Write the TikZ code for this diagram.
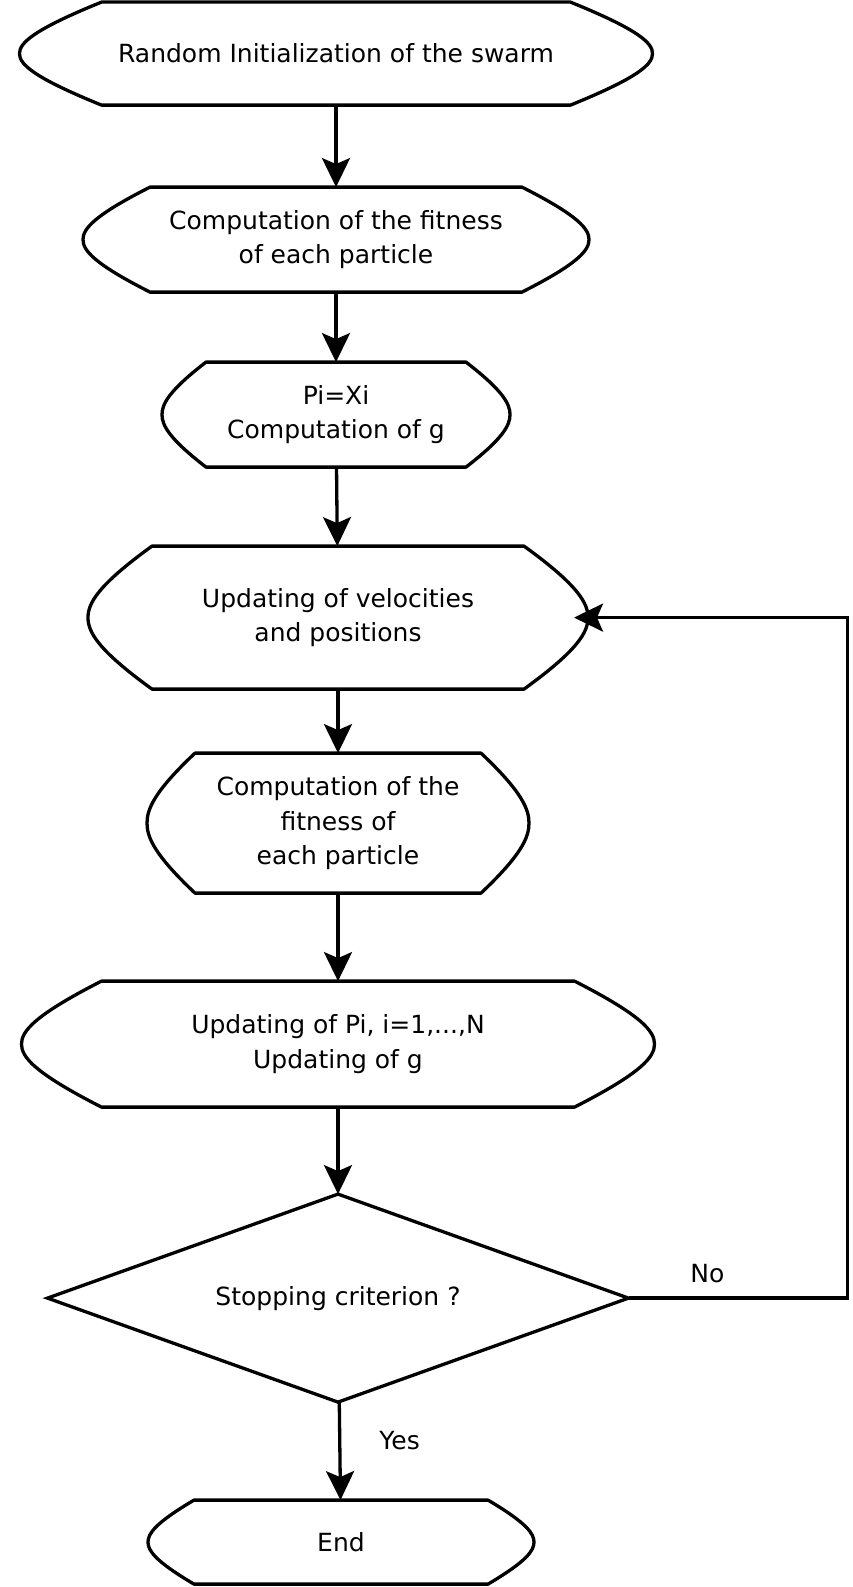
\documentclass[tikz,border=0pt]{standalone}
\usepackage{fontspec}
\setmainfont{DejaVu Sans}
\usetikzlibrary{shapes.geometric, arrows.meta, positioning, calc}
\tikzstyle{procbox} = [rectangle, inner sep=0pt, outer sep=0pt, align=center]
\tikzstyle{decision} = [diamond, aspect=2.8, draw=black, line width=3.3pt, inner sep=0pt, outer sep=0pt, minimum width=581pt, minimum height=208pt, align=center]
\tikzstyle{outline} = [draw=black, line width=3.3pt, line join=round]
\tikzstyle{edge} = [line width=3.3pt, -{Stealth[length=29pt, width=28pt, inset=6pt]}]
\tikzstyle{tag} = [inner sep=0pt]

\begin{document}
\begin{tikzpicture}[x=1pt, y=-1pt, every node/.style={font=\fontsize{25pt}{34.4pt}\selectfont}]
\useasboundingbox (0,0) rectangle (853,1587);

\node (init) [procbox, minimum width=633pt, minimum height=103pt] at (336,53.6) {Random Initialization of the swarm};
\node (fit) [procbox, minimum width=506pt, minimum height=105pt, below=82pt of init] {Computation of the fitness\\of each particle};
\node (best) [procbox, minimum width=348pt, minimum height=105pt, below=70pt of fit] {Pi=Xi\\Computation of g};
\node (upd) [procbox, minimum width=500pt, minimum height=143pt, below=79pt of best, xshift=2pt] {Updating of velocities\\and positions};
\node (fit2) [procbox, minimum width=382pt, minimum height=140pt, below=64pt of upd] {Computation of the\\fitness of\\each particle};
\node (upd2) [procbox, minimum width=633pt, minimum height=126pt, below=88pt of fit2] {Updating of Pi, i=1,...,N\\Updating of g};
\node (crit) [decision, below=87pt of upd2] {Stopping criterion ?};
\node (end) [procbox, minimum width=386pt, minimum height=84pt, below=98pt of crit, xshift=3pt] {End};

% rounded hexagon outlines: node name / side depth
\foreach \nd/\sd in {init/82, fit/67, best/44, upd/64, fit2/48, upd2/80, end/46}
  \draw [outline] ($(\nd.north west)+(\sd,0)$) -- ($(\nd.north east)+(-\sd,0)$)
    .. controls ($(\nd.north east)!0.55!(\nd.east)+(-0.15*\sd,0)$) and ($(\nd.north east)!0.8!(\nd.east)$) .. (\nd.east)
    .. controls ($(\nd.south east)!0.8!(\nd.east)$) and ($(\nd.south east)!0.55!(\nd.east)+(-0.15*\sd,0)$) .. ($(\nd.south east)+(-\sd,0)$)
    -- ($(\nd.south west)+(\sd,0)$)
    .. controls ($(\nd.south west)!0.55!(\nd.west)+(0.15*\sd,0)$) and ($(\nd.south west)!0.8!(\nd.west)$) .. (\nd.west)
    .. controls ($(\nd.north west)!0.8!(\nd.west)$) and ($(\nd.north west)!0.55!(\nd.west)+(0.15*\sd,0)$) .. cycle;

\coordinate (back) at ([xshift=219pt]crit.east);

\draw [edge] (init) -- (fit);
\draw [edge] (fit) -- (best);
\draw [edge] (best) -- (upd);
\draw [edge] (upd) -- (fit2);
\draw [edge] (fit2) -- (upd2);
\draw [edge] (upd2) -- (crit);
\draw [edge] (crit) -- node[tag, right=38pt, pos=0.4]{Yes} (end);
\draw [edge, shorten >=-14pt] (crit.east) -- node[tag, above=14pt, pos=0.36]{No} (back) |- (upd.east);

\end{tikzpicture}
\end{document}
